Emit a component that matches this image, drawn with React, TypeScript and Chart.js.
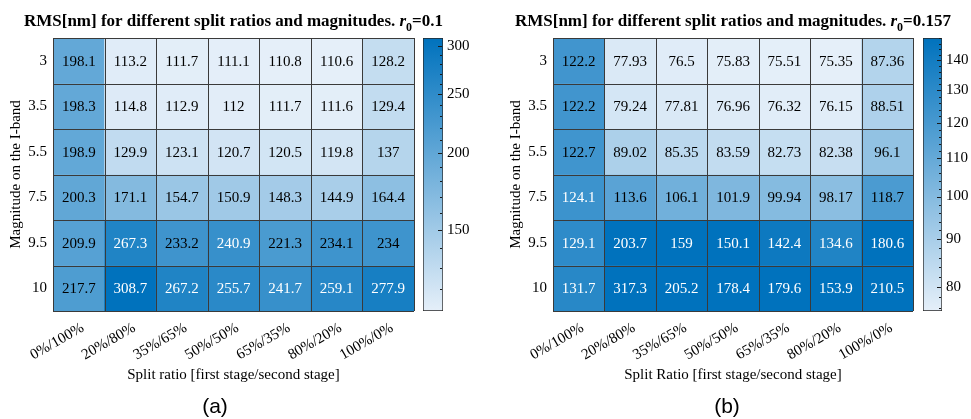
import React, { useEffect, useRef } from 'react';
import { Chart, registerables } from 'chart.js';

Chart.register(...registerables);

// ---------- data ----------
const splitRatios = ['0%/100%', '20%/80%', '35%/65%', '50%/50%', '65%/35%', '80%/20%', '100%/0%'];
const magnitudes = ['3', '3.5', '5.5', '7.5', '9.5', '10'];

// Panel (a): r0 = 0.1, rows follow magnitudes
const rmsR0a = [
  [198.1, 113.2, 111.7, 111.1, 110.8, 110.6, 128.2],
  [198.3, 114.8, 112.9, 112, 111.7, 111.6, 129.4],
  [198.9, 129.9, 123.1, 120.7, 120.5, 119.8, 137],
  [200.3, 171.1, 154.7, 150.9, 148.3, 144.9, 164.4],
  [209.9, 267.3, 233.2, 240.9, 221.3, 234.1, 234],
  [217.7, 308.7, 267.2, 255.7, 241.7, 259.1, 277.9],
];
// Panel (b): r0 = 0.157
const rmsR0b = [
  [122.2, 77.93, 76.5, 75.83, 75.51, 75.35, 87.36],
  [122.2, 79.24, 77.81, 76.96, 76.32, 76.15, 88.51],
  [122.7, 89.02, 85.35, 83.59, 82.73, 82.38, 96.1],
  [124.1, 113.6, 106.1, 101.9, 99.94, 98.17, 118.7],
  [129.1, 203.7, 159, 150.1, 142.4, 134.6, 180.6],
  [131.7, 317.3, 205.2, 178.4, 179.6, 153.9, 210.5],
];

const colorLimitsA = [110.6, 308.7];
const colorLimitsB = [75.35, 148];
const colorbarTicksA = [150, 200, 250, 300];
const colorbarTicksB = [80, 90, 100, 110, 120, 130, 140];
const minorStepA = 10;
const minorStepB = 2;

const r0A = '0.1';
const r0B = '0.157';
const titleMain = 'RMS[nm] for different split ratios and magnitudes. ';
const xTitleA = 'Split ratio [first stage/second stage]';
const xTitleB = 'Split Ratio [first stage/second stage]';
const yTitle = 'Magnitude on the I-band';

// ---------- styles ----------
const SERIF = '"Liberation Serif", "Times New Roman", serif';
const SANS = '"Liberation Sans", Arial, sans-serif';
const LOW = [229, 239, 249];
const HIGH = [0, 114, 189];
const GRID = '#3a3a3a';

const tOf = (v: number, lim: number[]) => {
  const t = Math.log(v / lim[0]) / Math.log(lim[1] / lim[0]);
  return Math.max(0, Math.min(1, t));
};
const colorOf = (t: number) => {
  const c = LOW.map((l, i) => Math.round(l + (HIGH[i] - l) * t));
  return `rgb(${c[0]},${c[1]},${c[2]})`;
};

type PanelCfg = {
  values: number[][];
  lim: number[];
  r0: string;
  xTitle: string;
  tag: string;
  tagX: number;
  padLeft: number;
  padRight: number;
  cbTicks: number[];
  cbMinor: number;
};

function makeHeatmap(canvas: HTMLCanvasElement, cfg: PanelCfg) {
  const overlay = {
    id: 'overlay',
    afterDatasetsDraw(chart: any) {
      const { ctx, chartArea, scales } = chart;
      const xs = scales.x;
      const ys = scales.y;
      const step = xs.getPixelForValue(1) - xs.getPixelForValue(0);
      ctx.save();
      // cell values
      ctx.font = `15px ${SERIF}`;
      ctx.textAlign = 'center';
      ctx.textBaseline = 'middle';
      cfg.values.forEach((row, r) => {
        row.forEach((v, c) => {
          const t = tOf(v, cfg.lim);
          ctx.fillStyle = t > 0.735 ? '#ffffff' : '#000000';
          ctx.fillText(String(v), xs.getPixelForValue(c), ys.getPixelForValue(r + 0.5) + 1);
        });
      });
      // grid lines
      ctx.strokeStyle = GRID;
      ctx.lineWidth = 1;
      ctx.beginPath();
      for (let c = 0; c <= splitRatios.length; c++) {
        const x = Math.round(xs.getPixelForValue(0) - step / 2 + c * step) + 0.5;
        ctx.moveTo(x, chartArea.top);
        ctx.lineTo(x, chartArea.bottom);
      }
      for (let r = 0; r <= magnitudes.length; r++) {
        const y = Math.round(ys.getPixelForValue(r)) + 0.5;
        ctx.moveTo(chartArea.left, y);
        ctx.lineTo(chartArea.right, y);
      }
      ctx.stroke();
      ctx.restore();
    },
    afterDraw(chart: any) {
      const { ctx, chartArea } = chart;
      const cx = (chartArea.left + chartArea.right) / 2;
      const base = 26;
      const parts: [string, string, number][] = [
        [titleMain, `bold 17px ${SERIF}`, 0],
        ['r', `italic bold 17px ${SERIF}`, 0],
        ['0', `bold 12px ${SERIF}`, 5],
        ['=' + cfg.r0, `bold 17px ${SERIF}`, 0],
      ];
      ctx.save();
      ctx.fillStyle = '#000';
      ctx.textBaseline = 'alphabetic';
      ctx.textAlign = 'left';
      let total = 0;
      parts.forEach(([s, f]) => {
        ctx.font = f;
        total += ctx.measureText(s).width;
      });
      let x = cx - total / 2;
      parts.forEach(([s, f, dy]) => {
        ctx.font = f;
        ctx.fillText(s, x, base + dy);
        x += ctx.measureText(s).width;
      });
      // panel tag
      ctx.font = `21px ${SANS}`;
      ctx.textAlign = 'center';
      ctx.textBaseline = 'middle';
      ctx.fillText(cfg.tag, cfg.tagX, 407);
      ctx.restore();
    },
  };

  return new Chart(canvas, {
    type: 'bar',
    data: {
      labels: splitRatios,
      datasets: magnitudes.map((m, r) => ({
        label: m,
        data: splitRatios.map(() => [r, r + 1]) as any,
        backgroundColor: cfg.values[r].map((v) => colorOf(tOf(v, cfg.lim))),
        borderWidth: 0,
        barPercentage: 1,
        categoryPercentage: 1,
        grouped: false,
      })),
    },
    options: {
      animation: false,
      responsive: false,
      layout: { padding: { top: 38, left: cfg.padLeft, right: cfg.padRight, bottom: 0 } },
      plugins: { legend: { display: false }, tooltip: { enabled: false }, title: { display: false } },
      scales: {
        x: {
          type: 'category',
          grid: { display: false, drawTicks: false },
          border: { display: false },
          ticks: {
            autoSkip: false,
            maxRotation: 30,
            minRotation: 30,
            padding: 8,
            labelOffset: 4,
            color: '#000',
            font: { family: SERIF, size: 15 },
          },
          title: {
            display: true,
            text: cfg.xTitle,
            color: '#000',
            font: { family: SERIF, size: 15 },
            padding: { top: 0, bottom: 35 },
          },
          afterFit: (s: any) => {
            s.height = 108;
          },
        },
        y: {
          type: 'linear',
          min: 0,
          max: magnitudes.length,
          reverse: true,
          grid: { display: false, drawTicks: false },
          border: { display: false },
          afterBuildTicks: (s: any) => {
            s.ticks = magnitudes.map((_, i) => ({ value: i + 0.5 }));
          },
          ticks: {
            padding: 6,
            color: '#000',
            font: { family: SERIF, size: 15 },
            callback: (v: any) => magnitudes[Math.floor(Number(v))],
          },
          title: {
            display: true,
            text: yTitle,
            color: '#000',
            font: { family: SERIF, size: 15 },
            padding: { top: 7, bottom: 0 },
          },
          afterFit: (s: any) => {
            s.width = 53;
          },
        },
      },
    } as any,
    plugins: [overlay],
  });
}

function makeColorbar(canvas: HTMLCanvasElement, cfg: PanelCfg, axisWidth: number) {
  const minorTicks: number[] = [];
  const startMinor = Math.ceil(cfg.lim[0] / cfg.cbMinor) * cfg.cbMinor;
  for (let v = startMinor; v <= cfg.lim[1]; v += cfg.cbMinor) minorTicks.push(v);
  const tickPlugin = {
    id: 'cbticks',
    afterDatasetsDraw(chart: any) {
      const { ctx, chartArea, scales } = chart;
      const ys = scales.y;
      ctx.save();
      ctx.strokeStyle = '#1a1a1a';
      ctx.lineWidth = 1;
      ctx.beginPath();
      minorTicks.forEach((v) => {
        const y = Math.round(ys.getPixelForValue(v)) + 0.5;
        ctx.moveTo(chartArea.right - 1, y);
        ctx.lineTo(chartArea.right - 3, y);
      });
      cfg.cbTicks.forEach((v) => {
        const y = Math.round(ys.getPixelForValue(v)) + 0.5;
        ctx.moveTo(chartArea.right - 1, y);
        ctx.lineTo(chartArea.right - 5, y);
      });
      ctx.stroke();
      ctx.restore();
    },
  };
  return new Chart(canvas, {
    type: 'bar',
    data: {
      labels: [''],
      datasets: [
        {
          data: [[cfg.lim[0], cfg.lim[1]]] as any,
          backgroundColor: (c: any) => {
            const chart = c.chart;
            if (!chart.chartArea) return colorOf(0.5);
            const ys = chart.scales.y;
            const g = chart.ctx.createLinearGradient(
              0,
              ys.getPixelForValue(cfg.lim[0]),
              0,
              ys.getPixelForValue(cfg.lim[1])
            );
            g.addColorStop(0, colorOf(0));
            g.addColorStop(1, colorOf(1));
            return g;
          },
          borderColor: '#262626',
          borderWidth: 1,
          borderSkipped: false,
          barPercentage: 1,
          categoryPercentage: 1,
        },
      ],
    },
    options: {
      animation: false,
      responsive: false,
      layout: { padding: { top: 38, bottom: 108, left: 8, right: 0 } },
      plugins: { legend: { display: false }, tooltip: { enabled: false } },
      scales: {
        x: { display: false },
        y: {
          type: 'logarithmic',
          position: 'right',
          min: cfg.lim[0],
          max: cfg.lim[1],
          grid: { display: false, drawTicks: false },
          border: { display: false },
          afterBuildTicks: (s: any) => {
            s.ticks = cfg.cbTicks.map((v) => ({ value: v }));
          },
          ticks: {
            padding: 4,
            color: '#000',
            font: { family: SERIF, size: 15 },
            callback: (v: any) => String(v),
          },
          afterFit: (s: any) => {
            s.width = axisWidth;
          },
        },
      },
    } as any,
    plugins: [tickPlugin],
  });
}

const panelA: PanelCfg = {
  values: rmsR0a,
  lim: colorLimitsA,
  r0: r0A,
  xTitle: xTitleA,
  tag: '(a)',
  tagX: 215,
  padLeft: 0,
  padRight: 66,
  cbTicks: colorbarTicksA,
  cbMinor: minorStepA,
};
const panelB: PanelCfg = {
  values: rmsR0b,
  lim: colorLimitsB,
  r0: r0B,
  xTitle: xTitleB,
  tag: '(b)',
  tagX: 247,
  padLeft: 20,
  padRight: 58,
  cbTicks: colorbarTicksB,
  cbMinor: minorStepB,
};

export default function App() {
  const hA = useRef<HTMLCanvasElement>(null);
  const hB = useRef<HTMLCanvasElement>(null);
  const cA = useRef<HTMLCanvasElement>(null);
  const cB = useRef<HTMLCanvasElement>(null);

  useEffect(() => {
    const charts = [
      makeHeatmap(hA.current!, panelA),
      makeHeatmap(hB.current!, panelB),
      makeColorbar(cA.current!, panelA, 37),
      makeColorbar(cB.current!, panelB, 29),
    ];
    return () => charts.forEach((c) => c.destroy());
  }, []);

  return (
    <div style={{ position: 'absolute', left: 0, top: 0, width: 971, height: 419, background: '#fff', overflow: 'hidden' }}>
      <canvas ref={hA} width={480} height={419} style={{ position: 'absolute', left: 0, top: 0 }} />
      <canvas ref={hB} width={491} height={419} style={{ position: 'absolute', left: 480, top: 0 }} />
      <canvas ref={cA} width={65} height={419} style={{ position: 'absolute', left: 415, top: 0 }} />
      <canvas ref={cB} width={56} height={419} style={{ position: 'absolute', left: 915, top: 0 }} />
    </div>
  );
}
